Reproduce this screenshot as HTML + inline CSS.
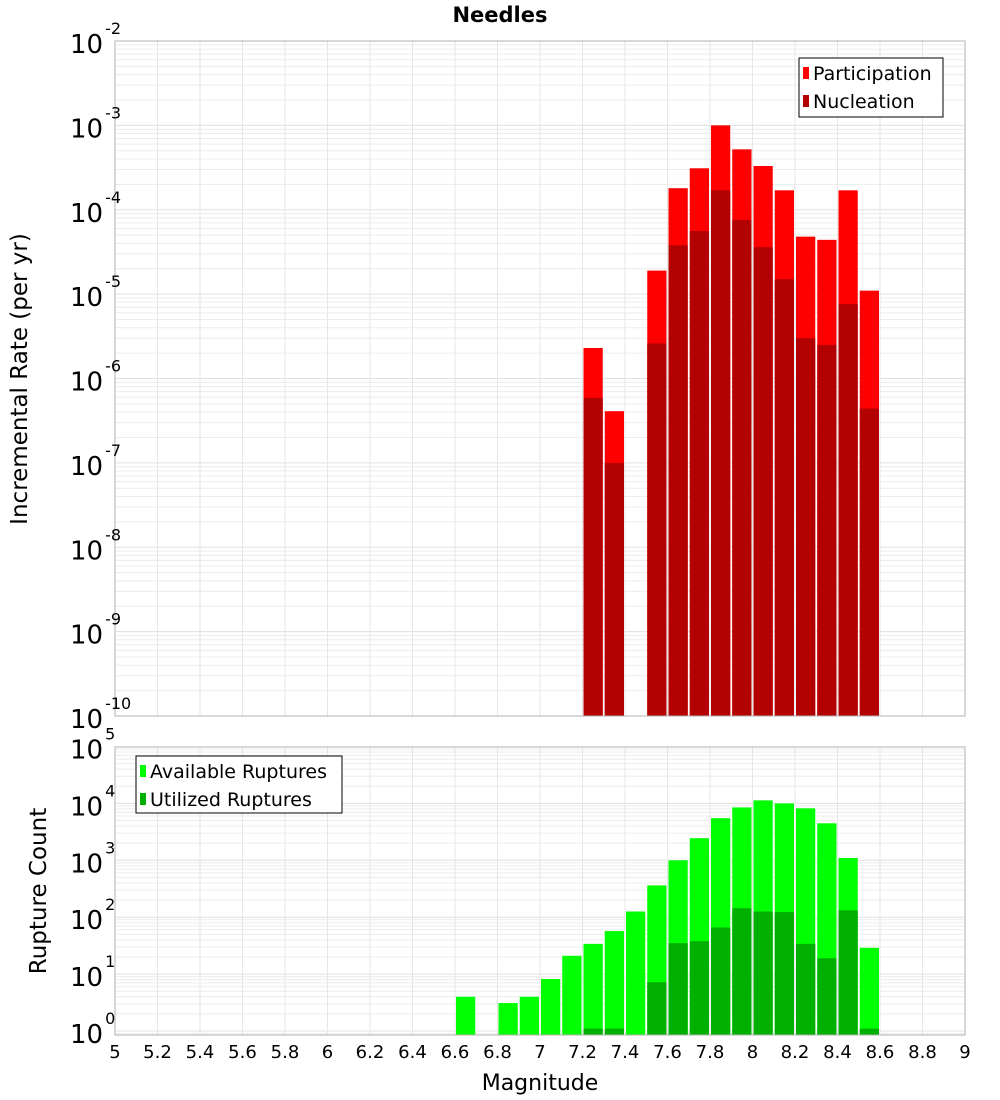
<!DOCTYPE html>
<html><head><meta charset="utf-8"><style>
body{margin:0;background:#fff;}
svg{display:block;font-family:"DejaVu Sans","Liberation Sans",sans-serif;}
</style></head><body>
<svg id="c" width="1000" height="1100" viewBox="0 0 1000 1100"></svg>
<script>
const mags = [7.25,7.35,7.55,7.65,7.75,7.85,7.95,8.05,8.15,8.25,8.35,8.45,8.55];
const participation = [2.3e-6,4.1e-7,1.9e-5,1.8e-4,3.1e-4,1.0e-3,5.2e-4,3.3e-4,1.7e-4,4.8e-5,4.4e-5,1.7e-4,1.1e-5];
const nucleation = [5.9e-7,1.0e-7,2.6e-6,3.8e-5,5.6e-5,1.7e-4,7.6e-5,3.6e-5,1.5e-5,3.0e-6,2.5e-6,7.6e-6,4.4e-7];
const rupMags = [6.65,6.85,6.95,7.05,7.15,7.25,7.35,7.45,7.55,7.65,7.75,7.85,7.95,8.05,8.15,8.25,8.35,8.45,8.55];
const available = [4,3.1,4,8.2,21,34,57,126,363,1000,2450,5500,8500,11300,10000,8200,4470,1100,29];
const utilized = [0,0,0,0,0,1.1,1.1,0,7.2,35,38,66,144,126,123,34,19,132,1.1];
const xTicks = ["5","5.2","5.4","5.6","5.8","6","6.2","6.4","6.6","6.8","7","7.2","7.4","7.6","7.8","8","8.2","8.4","8.6","8.8","9"];
const topExps = [-2,-3,-4,-5,-6,-7,-8,-9,-10];
const botExps = [5,4,3,2,1,0];

const NS="http://www.w3.org/2000/svg";
const svg=document.getElementById('c');
function mk(tag,attrs,parent,text){const e=document.createElementNS(NS,tag);for(const k in attrs)e.setAttribute(k,attrs[k]);if(text!==undefined)e.textContent=text;(parent||svg).appendChild(e);return e;}

const X0=115,X1=965;
const x=m=>X0+(m-5)/4*(X1-X0);
const T0=41,T1=716;
const yT=v=>T0+(-2-Math.log10(v))*(T1-T0)/8;
const B0=747,B1=1035,BZ=1031,BD=56.9;
const yB=v=>Math.min(B1,BZ-Math.log10(v)*BD);

function grid(top,bot,yf,lo,hi,name){
  const g=mk('g',{},svg);
  
  
  for(let e=lo;e<hi;e++){for(let k=1;k<10;k++){const yy=yf(k*Math.pow(10,e));if(yy>=top&&yy<=bot)mk('line',{x1:X0,x2:X1,y1:yy,y2:yy,stroke:k==1?'#e0e0e0':'#ececec','stroke-width':1},g);}}
  xTicks.forEach(t=>{const xx=x(+t);mk('line',{x1:xx,x2:xx,y1:top,y2:bot,stroke:'#e6e6e6','stroke-width':1},g);});
}
grid(T0,T1,yT,-10,-1,'top-grid');
grid(B0,B1,yB,-1,5,'bottom-grid');

function bars(ms,vals,yf,base,color,name){
  const g=mk('g',{},svg);
  
  
  ms.forEach((m,i)=>{if(!(vals[i]>0))return;const x0=x(m-0.05)+1,x1=x(m+0.05)-1;const yy=yf(vals[i]);
    const r=mk('rect',{x:x0,y:yy,width:x1-x0,height:base-yy,fill:color},g);
    
    });
}
bars(mags,participation,yT,T1,'#ff0000','participation');
bars(mags,nucleation,yT,T1,'#b30000','nucleation');
bars(rupMags,available,yB,B1,'#00ff00','available-ruptures');
bars(rupMags,utilized,yB,B1,'#00b000','utilized-ruptures');

mk('rect',{x:X0,y:T0,width:X1-X0,height:T1-T0,fill:'none',stroke:'#b0b0b0'});
mk('rect',{x:X0,y:B0,width:X1-X0,height:B1-B0,fill:'none',stroke:'#b0b0b0'});

function ylab(exps,yf,name){
  const g=mk('g',{},svg);
  
  
  exps.forEach(e=>{const yy=yf(Math.pow(10,e));
    const t=mk('text',{x:70,y:yy+12,'font-size':26,fill:'#000'},g,'10');
    mk('tspan',{dx:2,dy:-19,'font-size':16},t,String(e));});
}
ylab(topExps,yT,'top-y-ticks');
ylab(botExps,v=>BZ-Math.log10(v)*BD,'bottom-y-ticks');

const xg=mk('g',{},svg);


xTicks.forEach(t=>{mk('text',{x:x(+t),y:1058,'font-size':18,'text-anchor':'middle'},xg,t);});

const tt=mk('text',{x:500,y:22,'font-size':21,'font-weight':'bold','text-anchor':'middle'},svg,'Needles');

const xt=mk('text',{x:540,y:1090,'font-size':22,'text-anchor':'middle'},svg,'Magnitude');

const yt1=mk('text',{x:0,y:0,'font-size':23,'text-anchor':'middle',transform:'translate(27,379) rotate(-90)'},svg,'Incremental Rate (per yr)');

const yt2=mk('text',{x:0,y:0,'font-size':23,'text-anchor':'middle',transform:'translate(46,891) rotate(-90)'},svg,'Rupture Count');


function legend(bx,by,w,h,items,name){
  const g=mk('g',{},svg);
  
  
  mk('rect',{x:bx,y:by,width:w,height:h,fill:'#fff',stroke:'#000'},g);
  items.forEach((it,i)=>{const yy=by+15+i*28;
    const e=mk('g',{},g);
    
    
    mk('rect',{x:bx+4,y:yy-6,width:6,height:12,fill:it[1]},e);
    mk('text',{x:bx+14,y:yy+7,'font-size':19},e,it[0]);});
}
legend(799,58,144,59,[['Participation','#ff0000'],['Nucleation','#b30000']],'top-legend');
legend(136,756,206,57,[['Available Ruptures','#00ff00'],['Utilized Ruptures','#00b000']],'bottom-legend');
</script>
</body></html>
